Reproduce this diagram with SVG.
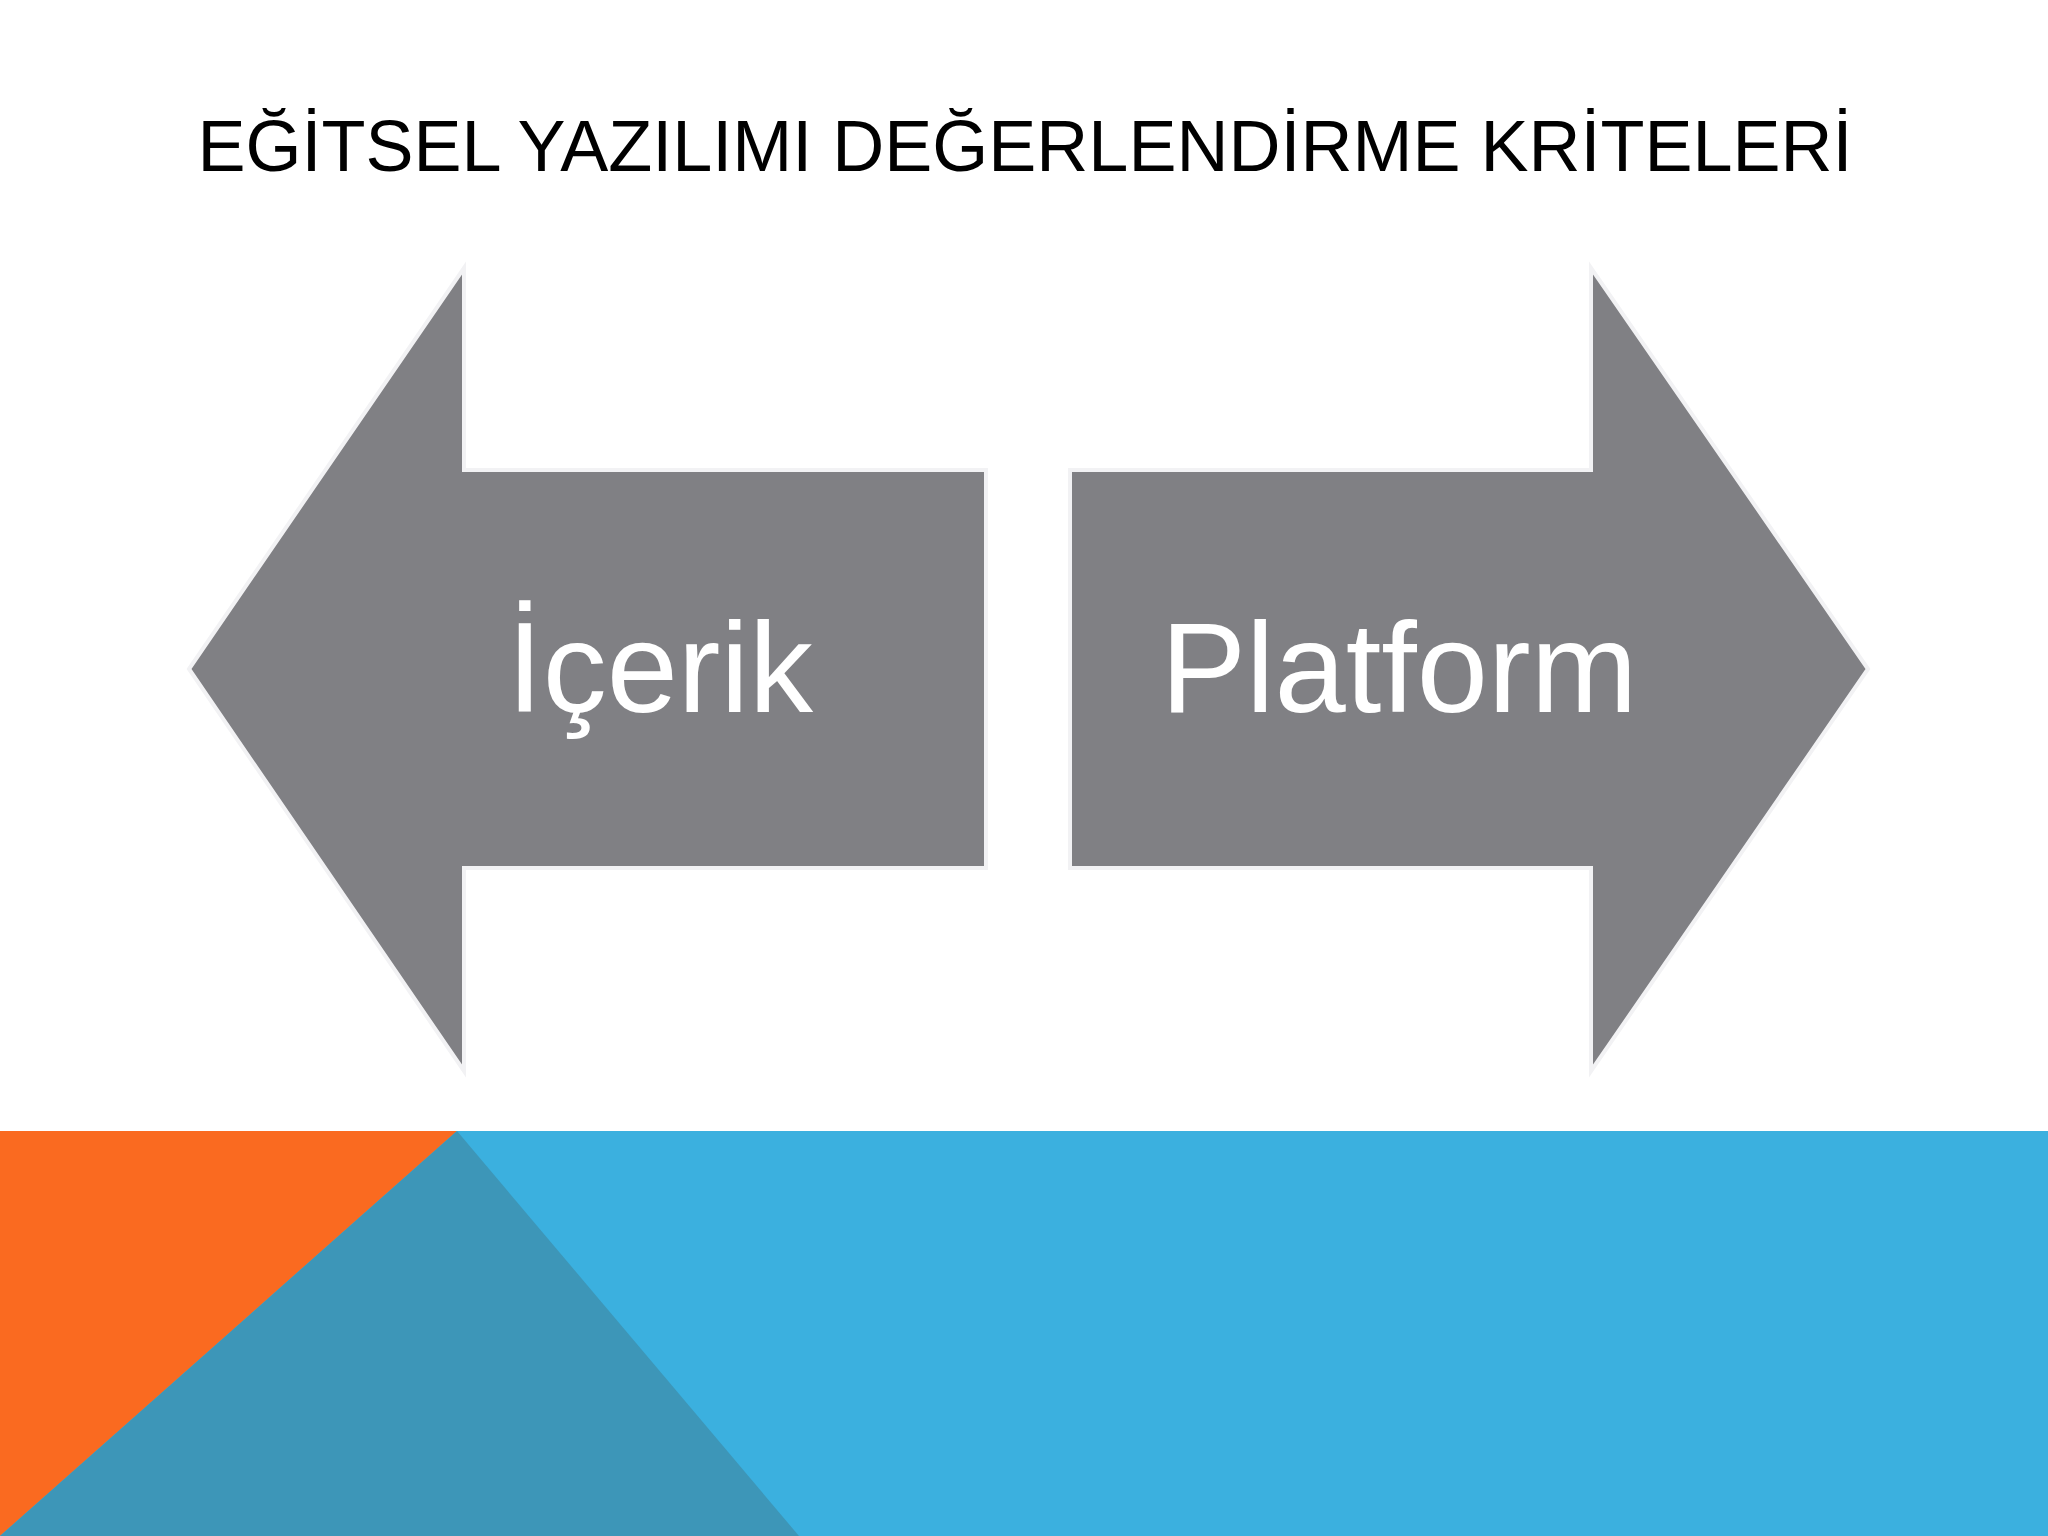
<svg xmlns="http://www.w3.org/2000/svg" width="2048" height="1536" viewBox="0 0 2048 1536">
<style>
.arrow{fill:#808084;stroke:#f2f2f4;stroke-width:4}
.lbl{font-family:"Liberation Sans",Arial,sans-serif;font-size:128px;fill:#ffffff;text-anchor:middle}
</style>
<rect width="2048" height="1536" fill="#ffffff"/>
<text x="1025" y="171" font-family="Liberation Sans,Arial,sans-serif" font-size="72" text-anchor="middle" fill="#000">EĞİTSEL YAZILIMI DEĞERLENDİRME KRİTELERİ</text>
<g id="icerik">
<polygon class="arrow" points="189,669 464,268 464,470 986,470 986,868 464,868 464,1071"/>
<text class="lbl" x="660" y="712">İçerik</text>
</g>
<g id="platform">
<polygon class="arrow" points="1868,669 1591,268 1591,470 1070,470 1070,868 1591,868 1591,1071"/>
<text class="lbl" x="1399" y="712">Platform</text>
</g>
<g id="connectors"/>
<rect x="0" y="1131" width="2048" height="405" fill="#3BB0DF"/>
<polygon points="0,1131 457,1131 0,1536" fill="#FA6A20"/>
<polygon points="457,1131 0,1536 799,1536" fill="#3D96B8"/>
</svg>
